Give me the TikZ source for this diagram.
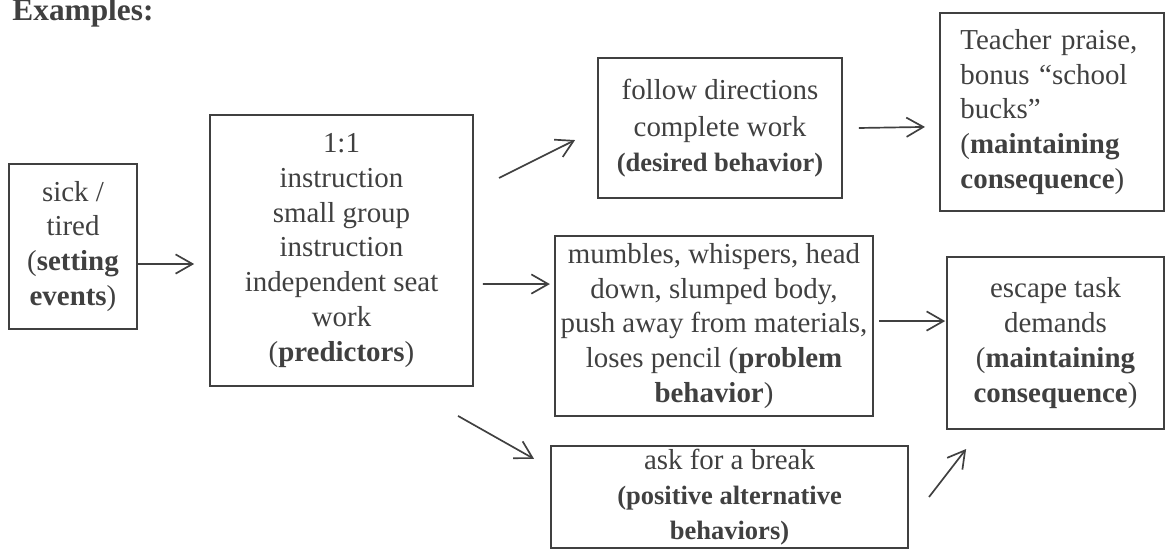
\documentclass[tikz,border=0pt]{standalone}
\usepackage{fontspec}
\setmainfont{Liberation Serif}
\usetikzlibrary{arrows.meta}
\definecolor{encre}{gray}{0.25}
\newcommand\petitgras[1]{{\fontsize{11}{14.5}\selectfont\bfseries #1}}

\begin{document}
\begin{tikzpicture}[x = 0.415pt, y = -0.415pt,
  boite/.style = {draw = encre, line width = 0.8pt, text = encre, align = center, inner sep = 1pt, font = \fontsize{12}{14.5}\selectfont},
  fleche/.style = {draw = encre, line width = 0.7pt, -{Straight Barb[length = 7pt, width = 8pt]}}]
\useasboundingbox (0,0) rectangle (1166,550);
\node[text = encre, font = \fontsize{13}{15}\selectfont\bfseries, anchor = base west, inner sep = 0](titre)at(12,21){Examples:};
\node[boite, minimum width = 53.1pt, minimum height = 68.5pt](S)at(73,246.5){sick /\\tired\\(\textbf{setting}\\\textbf{events})};
\node[boite, minimum width = 109.1pt, minimum height = 112.5pt](P)at(341.5,250.5){1:1\\instruction\\small group\\instruction\\independent seat\\work\\(\textbf{predictors})};
\node[boite, minimum width = 101.3pt, minimum height = 58.1pt](F)at(720,128){follow directions\\[1pt]complete work\\\petitgras{(desired behavior)}};
\node[boite, align = left, text width = 76pt, inner xsep = 8.5pt, minimum width = 93pt, minimum height = 82.2pt](T)at(1052,112){Teacher praise,\\bonus “school\\bucks”\\(\textbf{maintaining}\\\textbf{consequence})};
\node[boite, minimum width = 132pt, minimum height = 74.7pt](M)at(714,326){mumbles, whispers, head\\down, slumped body,\\push away from materials,\\loses pencil (\textbf{problem}\\\textbf{behavior})};
\node[boite, minimum width = 90pt, minimum height = 71.4pt](E)at(1055.5,343){escape task\\demands\\(\textbf{maintaining}\\\textbf{consequence})};
\node[boite, minimum width = 148.2pt, minimum height = 42.3pt](A)at(729.5,497){ask for a break\\\petitgras{(positive alternative}\\\petitgras{behaviors)}};
\draw[fleche]([yshift = -7.3pt]S.east)--([xshift = -6.2pt, yshift = -5.6pt]P.west);
\draw[fleche]([xshift = 3.7pt, yshift = -13.9pt]P.east)--([xshift = -1.7pt, yshift = 17.4pt]M.west);
\draw[fleche]([xshift = 10.4pt, yshift = 30.1pt]P.east)--([xshift = -9.1pt, yshift = -5pt]F.west);
\draw[fleche]([xshift = 6.6pt]F.east)--([xshift = -5.8pt, yshift = -6.2pt]T.west);
\draw[fleche]([xshift = -6.6pt, yshift = -12pt]P.south east)--([xshift = -6.6pt, yshift = 15.8pt]A.west);
\draw[fleche]([xshift = 2.1pt, yshift = 2.1pt]M.east)--([xshift = -0.4pt, yshift = 9.1pt]E.west);
\draw[fleche]([xshift = 8.3pt]A.east)--([xshift = 8.3pt, yshift = -7.9pt]E.south west);
\end{tikzpicture}
\end{document}
